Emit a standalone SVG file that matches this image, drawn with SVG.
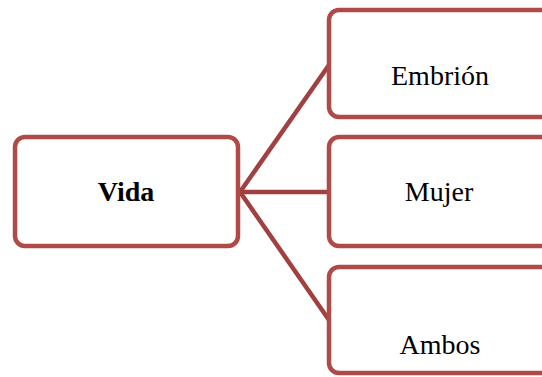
<svg xmlns="http://www.w3.org/2000/svg" width="542" height="377" viewBox="0 0 542 377">
<style>
.box{fill:#fff;stroke:#b04a47;stroke-width:4.5}
.con{stroke:#a04040;stroke-width:4.5;fill:none}
.t{font-family:"Liberation Serif","Times New Roman",serif;font-size:28px;fill:#000;text-anchor:middle}
</style>
<rect width="542" height="377" fill="#fff"/>
<g id="connectors">
<line class="con" x1="240" y1="192" x2="329" y2="65"/>
<line class="con" x1="240" y1="192" x2="329" y2="192"/>
<line class="con" x1="240" y1="192" x2="329" y2="320"/>
</g>
<g id="vida">
<rect class="box" x="15" y="137" width="223" height="109" rx="10"/>
<text class="t" x="126" y="201" font-weight="bold">Vida</text>
</g>
<g id="embrion">
<rect class="box" x="329" y="10" width="225" height="107" rx="10"/>
<text class="t" x="440" y="85">Embrión</text>
</g>
<g id="mujer">
<rect class="box" x="329" y="137" width="225" height="109" rx="10"/>
<text class="t" x="439" y="201">Mujer</text>
</g>
<g id="ambos">
<rect class="box" x="329" y="267" width="225" height="106" rx="10"/>
<text class="t" x="440" y="354">Ambos</text>
</g>
</svg>
